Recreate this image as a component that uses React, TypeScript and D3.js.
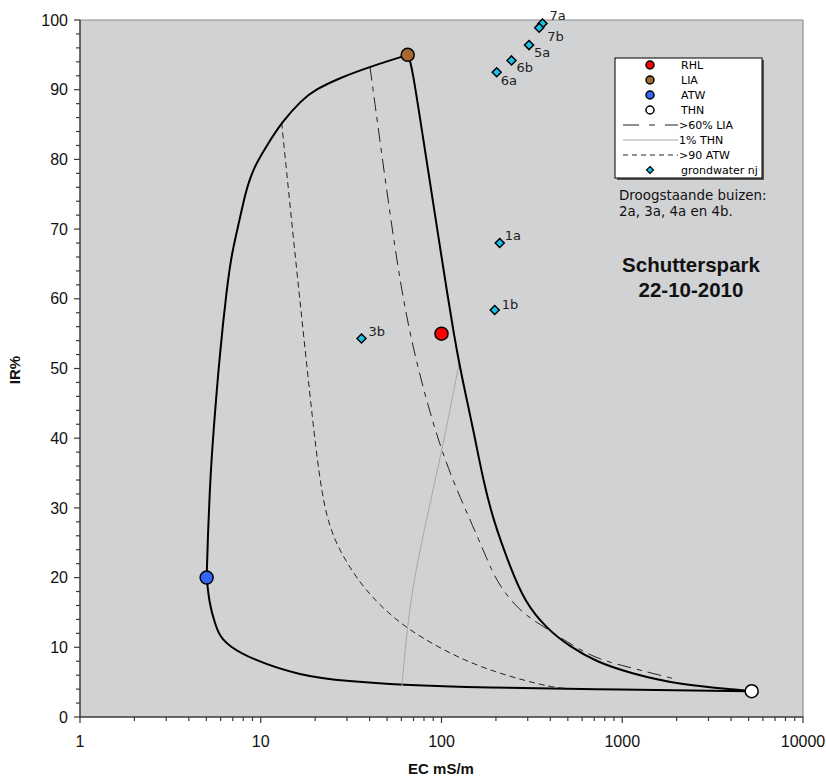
import React from "react";
import * as d3 from "d3";

// ---------- data ----------
const xTickValues = [1, 10, 100, 1000, 10000];
const yTickValues = [0, 10, 20, 30, 40, 50, 60, 70, 80, 90, 100];

const endMemberNames = ["RHL", "LIA", "ATW", "THN"];
const endMemberEC = [100, 65, 5.02, 5200];
const endMemberIR = [55, 95, 20, 3.7];
const endMemberColors = ["#ff0000", "#a8692f", "#3366f2", "#ffffff"];

const gwLabels = ["7a", "7b", "5a", "6b", "6a", "1a", "1b", "3b"];
const gwEC = [362, 347, 305, 244, 202, 210, 197, 36.1];
const gwIR = [99.5, 98.9, 96.4, 94.2, 92.5, 68.0, 58.4, 54.3];
const gwLabelDx = [7, 8, 5, 5, 4, 5, 7, 7];
const gwLabelDy = [-3, 13, 12, 12, 13, -3, -1, -3];

// mixing lines [EC, IR]
const mixATW_LIA: [number, number][] = [
  [5.02, 20], [5.1, 26], [5.24, 33.5], [5.46, 40.7], [5.95, 52.5], [6.48, 61.3],
  [6.9, 66.5], [7.67, 71.5], [8.18, 75.0], [9.09, 78.8], [11.0, 82.3], [13.05, 85.3],
  [16.8, 88.5], [20, 90.0], [27.4, 91.7], [40.2, 93.3], [65, 95],
];
const mixLIA_THN: [number, number][] = [
  [65, 95], [68.4, 93.8], [81, 81.3], [96.8, 68.4], [108, 60.5], [117, 55],
  [126, 50.4], [138, 45.5], [150, 41.2], [170, 34.0], [193, 28.3], [239, 21.6],
  [289, 16.5], [381, 12.7], [513, 10.1], [721, 7.9], [1102, 6.3], [2083, 4.6],
  [4470, 3.9], [5200, 3.7],
];
const mixATW_THN: [number, number][] = [
  [5.02, 20], [5.19, 16.3], [5.58, 13.4], [5.95, 11.5], [6.76, 10.1], [8.72, 8.4],
  [16.5, 5.9], [31, 5.1], [58.6, 4.6], [163, 4.2], [1000, 3.95], [5200, 3.7],
];
const lineLIA60: [number, number][] = [
  [40.2, 93.3], [54.1, 68.4], [66.8, 54.1], [98, 38.3], [136, 29.7], [170, 24.0],
  [189, 21.1], [215, 18.4], [260, 15.8], [308, 14.2], [381, 12.7], [662, 8.65], [970, 7.46],
  [1614, 6.0], [1996, 5.4],
];
const lineTHN1: [number, number][] = [
  [60.4, 4.45], [64.4, 12.5], [71.3, 21.1], [100, 37.8], [125, 50.7],
];
const lineATW90: [number, number][] = [
  [13.05, 85.3], [15.2, 68.3], [17.8, 51.5], [21.1, 33.5], [24.1, 26.8], [29.2, 22.5],
  [37.7, 18.2], [55.4, 13.9], [86.3, 10.6], [163, 7.0], [381, 4.35], [490, 4.1],
];

const legendLabels = ["RHL", "LIA", "ATW", "THN", ">60% LIA", "1% THN", ">90 ATW", "grondwater nj"];

// ---------- layout ----------
const W = 826;
const H = 776;
const left = 80, right = 803, top = 20, bottom = 717;
const AX = "Liberation Sans, Arial, Helvetica, sans-serif";
const LF = "DejaVu Sans, Verdana, sans-serif";

export default function App() {
  const x = d3.scaleLog().domain([1, 10000]).range([left, right]);
  const y = d3.scaleLinear().domain([0, 100]).range([bottom, top]);
  const line = d3
    .line<[number, number]>()
    .x((d) => x(d[0]))
    .y((d) => y(d[1]))
    .curve(d3.curveBasis);

  const minorX: number[] = [];
  for (let dec = 1; dec < 10000; dec *= 10) {
    for (let k = 2; k <= 9; k++) minorX.push(dec * k);
  }
  const minorY: number[] = d3.range(0, 101, 2).filter((v) => v % 10 !== 0);

  const legX = 615, legY = 58, legW = 147, legH = 120;
  const rowY = (i: number) => 65 + i * 15;

  const diamond = (cx: number, cy: number, r: number) =>
    `M${cx},${cy - r}L${cx + r},${cy}L${cx},${cy + r}L${cx - r},${cy}Z`;

  return (
    <svg
      width={W}
      height={H}
      style={{ position: "absolute", left: 0, top: 0, background: "#fff" }}
    >
      {/* plot area */}
      <rect x={left} y={top} width={right - left} height={bottom - top} fill="#d1d2d4" />
      <line x1={left} x2={right} y1={top} y2={top} stroke="#8c8c8c" strokeWidth={1.2} />
      <line x1={right} x2={right} y1={top} y2={bottom} stroke="#8c8c8c" strokeWidth={1.2} />

      {/* curves */}
      <path d={line(mixATW_THN) || ""} fill="none" stroke="#000" strokeWidth={2} />
      <path d={line(lineTHN1) || ""} fill="none" stroke="#a8a8a8" strokeWidth={1} />
      <path d={line(lineATW90) || ""} fill="none" stroke="#222" strokeWidth={1} strokeDasharray="6,4" />
      <path d={line(lineLIA60) || ""} fill="none" stroke="#222" strokeWidth={1} strokeDasharray="14,6,5,6" />
      <path d={line(mixATW_LIA) || ""} fill="none" stroke="#000" strokeWidth={2} />
      <path d={line(mixLIA_THN) || ""} fill="none" stroke="#000" strokeWidth={2} />

      {/* groundwater points */}
      {gwEC.map((ec, i) => (
        <g key={gwLabels[i]}>
          <path d={diamond(x(ec), y(gwIR[i]), 4.5)} fill="#19c3ec" stroke="#000" strokeWidth={1.5} />
          <text
            x={x(ec) + gwLabelDx[i]}
            y={y(gwIR[i]) + gwLabelDy[i]}
            fontFamily={LF}
            fontSize={13}
            fill="#222"
          >
            {gwLabels[i]}
          </text>
        </g>
      ))}

      {/* end members */}
      {endMemberEC.map((ec, i) => (
        <circle
          key={endMemberNames[i]}
          cx={x(ec)}
          cy={y(endMemberIR[i])}
          r={6.5}
          fill={endMemberColors[i]}
          stroke="#000"
          strokeWidth={1.5}
        />
      ))}

      {/* axes */}
      <line x1={left} x2={left} y1={top} y2={bottom + 0.5} stroke="#3a3a3a" strokeWidth={1.5} />
      <line x1={left - 0.5} x2={right + 0.5} y1={bottom} y2={bottom} stroke="#3a3a3a" strokeWidth={1.5} />
      {yTickValues.map((v) => (
        <g key={"y" + v}>
          <line x1={left - 6} x2={left} y1={y(v)} y2={y(v)} stroke="#3a3a3a" strokeWidth={1.2} />
          <text x={left - 12} y={y(v)} dy="0.35em" textAnchor="end" fontFamily={AX} fontSize={16} fill="#111">
            {v}
          </text>
        </g>
      ))}
      {minorY.map((v) => (
        <line key={"my" + v} x1={left - 4} x2={left} y1={y(v)} y2={y(v)} stroke="#3a3a3a" strokeWidth={1.2} />
      ))}
      {xTickValues.map((v) => (
        <g key={"x" + v}>
          <line x1={x(v)} x2={x(v)} y1={bottom} y2={bottom + 6} stroke="#3a3a3a" strokeWidth={1.2} />
          <text x={x(v)} y={bottom + 30} textAnchor="middle" fontFamily={AX} fontSize={16} fill="#111">
            {v}
          </text>
        </g>
      ))}
      {minorX.map((v) => (
        <line key={"mx" + v} x1={x(v)} x2={x(v)} y1={bottom} y2={bottom + 4} stroke="#3a3a3a" strokeWidth={1.2} />
      ))}

      {/* axis titles */}
      <text
        transform={`translate(20,370) rotate(-90)`}
        textAnchor="middle"
        fontFamily={AX}
        fontWeight="bold"
        fontSize={15}
        fill="#111"
      >
        IR%
      </text>
      <text x={441} y={774} textAnchor="middle" fontFamily={AX} fontWeight="bold" fontSize={15} fill="#111">
        EC mS/m
      </text>

      {/* legend */}
      <rect x={legX + 2} y={legY + 2} width={legW} height={legH} fill="#555" />
      <rect x={legX} y={legY} width={legW} height={legH} fill="#fff" stroke="#000" strokeWidth={1} />
      {endMemberNames.map((n, i) => (
        <circle key={"lg" + n} cx={650} cy={rowY(i)} r={4} fill={endMemberColors[i]} stroke="#000" strokeWidth={1.5} />
      ))}
      <line x1={623} x2={678} y1={rowY(4)} y2={rowY(4)} stroke="#222" strokeWidth={1} strokeDasharray="16,10,6,10" />
      <line x1={623} x2={678} y1={rowY(5)} y2={rowY(5)} stroke="#a8a8a8" strokeWidth={1} />
      <line x1={623} x2={678} y1={rowY(6)} y2={rowY(6)} stroke="#222" strokeWidth={1} strokeDasharray="5,4" />
      <path d={diamond(650, rowY(7), 3.5)} fill="#19c3ec" stroke="#000" strokeWidth={1.2} />
      {legendLabels.map((l, i) => (
        <text key={"lt" + i} x={i < 4 || i === 7 ? 681 : 679} y={rowY(i)} dy="0.35em" fontFamily={LF} fontSize={11} fill="#000">
          {l}
        </text>
      ))}

      {/* annotations */}
      <text x={619} y={200} fontFamily={LF} fontSize={13.4} fill="#111">
        Droogstaande buizen:
      </text>
      <text x={619} y={216} fontFamily={LF} fontSize={13.4} fill="#111">
        2a, 3a, 4a en 4b.
      </text>
      <text x={691} y={272} textAnchor="middle" fontFamily={AX} fontWeight="bold" fontSize={20.5} fill="#111">
        Schutterspark
      </text>
      <text x={691} y={297} textAnchor="middle" fontFamily={AX} fontWeight="bold" fontSize={20.5} fill="#111">
        22-10-2010
      </text>
    </svg>
  );
}
